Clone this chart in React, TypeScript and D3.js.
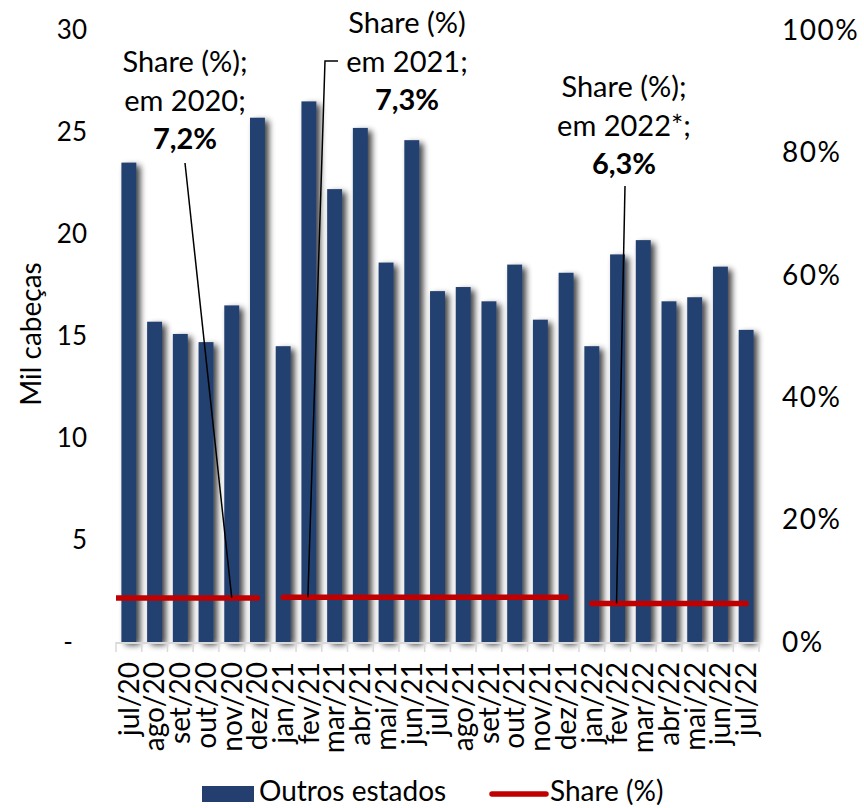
import React from "react";
import * as d3 from "d3";

const months = ["jul/20","ago/20","set/20","out/20","nov/20","dez/20","jan/21","fev/21","mar/21","abr/21","mai/21","jun/21","jul/21","ago/21","set/21","out/21","nov/21","dez/21","jan/22","fev/22","mar/22","abr/22","mai/22","jun/22","jul/22"];
const outrosEstados = [23.5,15.7,15.1,14.7,16.5,25.7,14.5,26.5,22.2,25.2,18.6,24.6,17.2,17.4,16.7,18.5,15.8,18.1,14.5,19.0,19.7,16.7,16.9,18.4,15.3];
const leftTicks = [0,5,10,15,20,25,30];
const rightTicks = [0,0.2,0.4,0.6,0.8,1.0];
const shareSegments = [
  { year: "2020", label: "em 2020;", value: 0.072, valueText: "7,2%", from: "jul/20", to: "dez/20", extendLeft: true },
  { year: "2021", label: "em 2021;", value: 0.073, valueText: "7,3%", from: "jan/21", to: "dez/21", extendLeft: false },
  { year: "2022", label: "em 2022*;", value: 0.063, valueText: "6,3%", from: "jan/22", to: "jul/22", extendLeft: false },
];

const W = 864, H = 808;
const plotL = 116, plotR = 759, plotT = 30, plotB = 642;
const FONT = "Lato, 'Open Sans', sans-serif";
const BAR = "#243F6F";
const RED = "#C00000";

export default function App() {
  const x = d3.scaleBand<string>().domain(months).range([plotL, plotR]).paddingInner(0.42).paddingOuter(0.21);
  const xb = d3.scaleBand<string>().domain(months).range([plotL, plotR]);
  const y = d3.scaleLinear().domain([0, 30]).range([plotB, plotT]);
  const y2 = d3.scaleLinear().domain([0, 1]).range([plotB, plotT]);
  const cx = (m: string) => (xb(m) as number) + xb.bandwidth() / 2;
  const line = d3.line<[number, number]>().x(d => d[0]).y(d => d[1]);

  const ann = [
    { seg: shareSegments[0], tx: 185, ty: 72, title: "Share (%);", leader: [[185, 163], [cx("nov/20"), y2(0.072)]] },
    { seg: shareSegments[1], tx: 407, ty: 33, title: "Share (%)", leader: [[338, 61], [325, 61], [cx("fev/21") - 1, y2(0.073)]] },
    { seg: shareSegments[2], tx: 624, ty: 97, title: "Share (%);", leader: [[625, 186], [cx("fev/22") - 1, y2(0.063)]] },
  ];

  return (
    <svg width={W} height={H} style={{ position: "absolute", left: 0, top: 0, background: "#fff" }} fontFamily={FONT}>
      <defs>
        <filter id="shadow" x="-60%" y="-10%" width="220%" height="120%">
          <feGaussianBlur in="SourceAlpha" stdDeviation="3" />
          <feOffset dx="4" dy="3" />
          <feComponentTransfer><feFuncA type="linear" slope="0.75" /></feComponentTransfer>
          <feMerge><feMergeNode /><feMergeNode in="SourceGraphic" /></feMerge>
        </filter>
        <clipPath id="plotclip"><rect x={plotL} y={plotT - 10} width={plotR - plotL} height={plotB - plotT + 10} /></clipPath>
      </defs>

      {/* bars */}
      <g filter="url(#shadow)">
        {months.map((m, i) => (
          <rect key={m} x={x(m)} y={y(outrosEstados[i])} width={x.bandwidth()} height={plotB - y(outrosEstados[i])} fill={BAR} />
        ))}
      </g>

      {/* axis baseline and ticks */}
      <line x1={plotL} x2={plotR} y1={plotB + 1} y2={plotB + 1} stroke="#D9D9D9" strokeWidth={2} />
      {months.map(m => (
        <line key={"t" + m} x1={xb(m)} x2={xb(m)} y1={plotB} y2={plotB + 10} stroke="#D9D9D9" strokeWidth={1.5} />
      ))}
      <line x1={plotR} x2={plotR} y1={plotB} y2={plotB + 10} stroke="#D9D9D9" strokeWidth={1.5} />

      {/* share lines */}
      <g clipPath="url(#plotclip)">
        {shareSegments.map(s => {
          const pts: [number, number][] = [
            [s.extendLeft ? plotL - 10 : cx(s.from), y2(s.value)],
            [cx(s.to), y2(s.value)],
          ];
          return <path key={s.year} d={line(pts) as string} stroke={RED} strokeWidth={5.5} strokeLinecap="round" fill="none" />;
        })}
      </g>

      {/* leader lines and annotations */}
      {ann.map((a, i) => (
        <g key={"a" + i}>
          <path d={line(a.leader as [number, number][]) as string} stroke="#000" strokeWidth={1.5} fill="none" />
          <text x={a.tx} y={a.ty} textAnchor="middle" fontSize={29} fill="#000">{a.title}</text>
          <text x={a.tx} y={a.ty + 38.5} textAnchor="middle" fontSize={29} fill="#000">{a.seg.label}</text>
          <text x={a.tx} y={a.ty + 77} textAnchor="middle" fontSize={29} fontWeight="bold" fill="#000">{a.seg.valueText}</text>
        </g>
      ))}

      {/* left axis */}
      {leftTicks.map(t => (
        <text key={"l" + t} x={t === 0 ? 73 : 87} y={y(t)} dy="0.35em" textAnchor="end" fontSize={26} fill="#000">
          {t === 0 ? "-" : String(t)}
        </text>
      ))}
      {/* right axis */}
      {rightTicks.map(t => (
        <text key={"r" + t} x={782} y={y2(t)} dy="0.35em" textAnchor="start" fontSize={28} letterSpacing={1.5} fill="#000">
          {Math.round(t * 100) + "%"}
        </text>
      ))}

      {/* y title */}
      <text transform={`translate(41,334) rotate(-90)`} textAnchor="middle" fontSize={28} fill="#000">Mil cabeças</text>

      {/* x labels */}
      {months.map(m => (
        <text key={"x" + m} transform={`translate(${cx(m)},${plotB + 20}) rotate(-90)`} dy="0.35em" textAnchor="end" fontSize={28} fill="#000">{m}</text>
      ))}

      {/* legend */}
      <rect x={202} y={786} width={52} height={16} fill={BAR} />
      <text x={259} y={801} fontSize={28} fill="#000">Outros estados</text>
      <line x1={492} x2={546} y1={794} y2={794} stroke={RED} strokeWidth={5.5} strokeLinecap="round" />
      <text x={550} y={801} fontSize={28} fill="#000">Share (%)</text>
    </svg>
  );
}
